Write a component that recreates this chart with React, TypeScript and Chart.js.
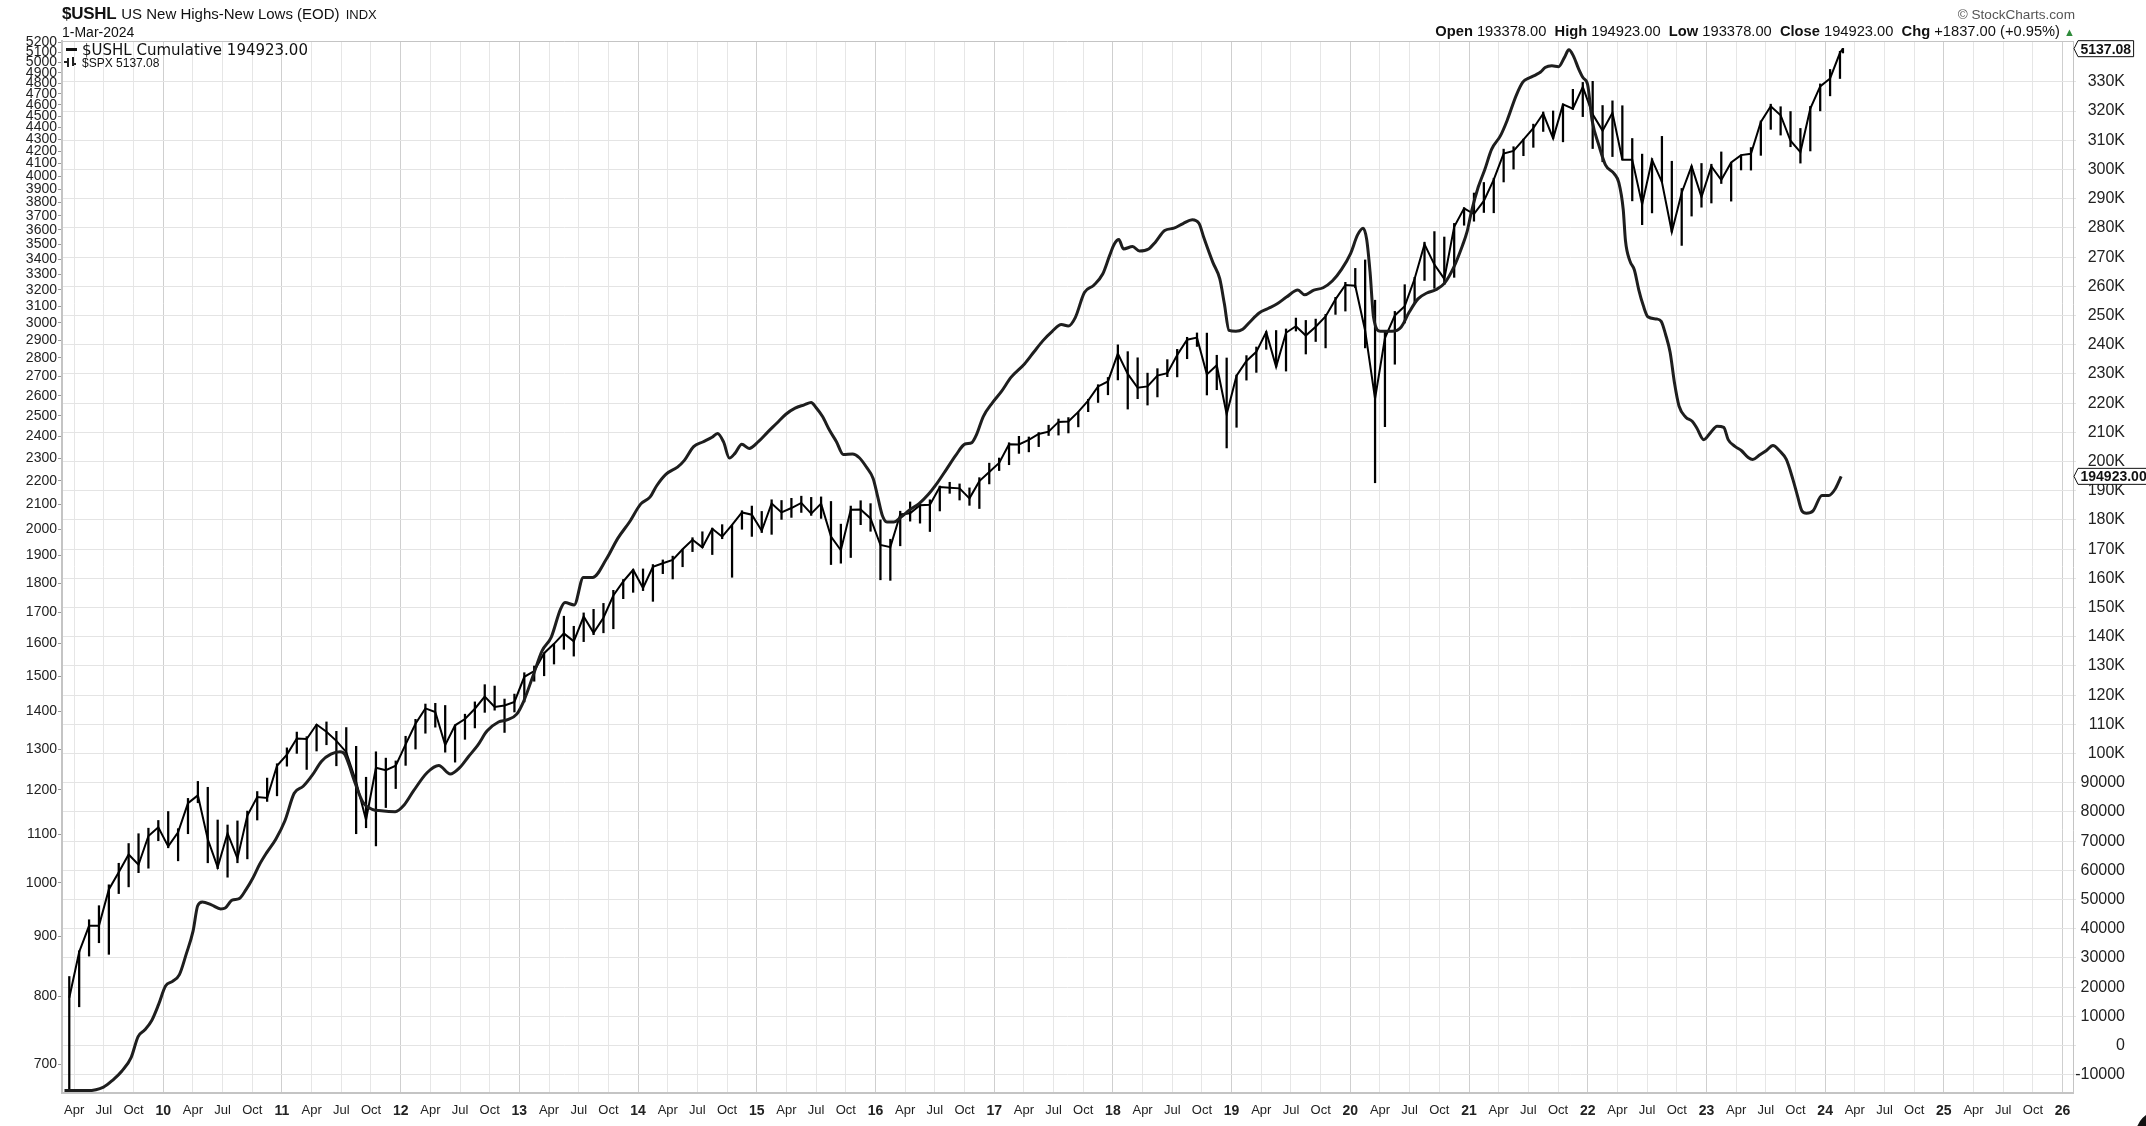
import React, { useEffect, useRef } from 'react';
import { Chart, registerables } from 'chart.js';

Chart.register(...registerables);

const W = 2146;
const H = 1126;
const FONT = '"Liberation Sans", Arial, Helvetica, sans-serif';

// ---------- S&P 500 ($SPX), monthly high / low / close, Mar 2009 .. 1-Mar-2024 ----------
const spxFirstYear = 2009;
const spxFirstMonth = 3; // March
const spxLastTime = 2024.15; // position of the final (1-Mar-2024) bar
const spxHigh = [
  832, 875, 930, 956, 996, 1039, 1080, 1101, 1113, 1130,
  1150, 1112, 1180, 1220, 1206, 1131, 1120, 1129, 1151, 1196, 1228, 1263,
  1303, 1344, 1332, 1364, 1371, 1346, 1356, 1307, 1230, 1293, 1277, 1270,
  1333, 1378, 1420, 1422, 1416, 1363, 1392, 1426, 1475, 1471, 1434, 1448,
  1510, 1530, 1570, 1597, 1687, 1654, 1698, 1710, 1730, 1775, 1813, 1850,
  1851, 1867, 1884, 1898, 1924, 1968, 1991, 2005, 2019, 2018, 2075, 2094,
  2072, 2120, 2117, 2126, 2135, 2130, 2132, 2113, 2021, 2094, 2116, 2104,
  2038, 1962, 2073, 2111, 2103, 2120, 2178, 2194, 2187, 2170, 2214, 2278,
  2301, 2371, 2401, 2398, 2419, 2454, 2484, 2491, 2519, 2582, 2657, 2695,
  2873, 2835, 2801, 2718, 2742, 2791, 2848, 2916, 2941, 2940, 2815, 2800,
  2708, 2813, 2861, 2949, 2955, 2964, 3028, 3014, 3022, 3050, 3154, 3248,
  3338, 3394, 3136, 2955, 3068, 3233, 3280, 3514, 3588, 3550, 3646, 3760,
  3870, 3951, 3984, 4218, 4238, 4302, 4430, 4537, 4546, 4608, 4743, 4808,
  4818, 4595, 4637, 4593, 4307, 4177, 4140, 4325, 4119, 3905, 4080, 4101,
  4095, 4195, 4110, 4170, 4231, 4458, 4607, 4584, 4541, 4393, 4587, 4794,
  4932, 5111, 5140,
];
const spxLow = [
  667, 784, 866, 889, 869, 979, 992, 1020, 1029, 1086,
  1071, 1044, 1101, 1170, 1040, 1028, 1011, 1040, 1048, 1131, 1173, 1186,
  1257, 1289, 1249, 1295, 1311, 1258, 1283, 1101, 1114, 1075, 1159, 1203,
  1259, 1300, 1341, 1357, 1292, 1267, 1325, 1355, 1397, 1403, 1343, 1398,
  1426, 1485, 1501, 1536, 1581, 1560, 1605, 1627, 1633, 1646, 1746, 1768,
  1774, 1737, 1834, 1815, 1859, 1915, 1930, 1904, 1964, 1821, 2001, 1973,
  1988, 1981, 2040, 2048, 2068, 2056, 2044, 1867, 1872, 1893, 2019, 1993,
  1812, 1810, 1937, 2033, 2025, 1992, 2074, 2147, 2119, 2097, 2084, 2187,
  2245, 2271, 2322, 2329, 2353, 2405, 2407, 2417, 2446, 2520, 2566, 2605,
  2682, 2533, 2585, 2553, 2594, 2699, 2698, 2796, 2864, 2604, 2631, 2347,
  2444, 2681, 2722, 2848, 2751, 2729, 2952, 2822, 2892, 2856, 3050, 3070,
  3214, 2856, 2192, 2447, 2766, 2999, 3116, 3260, 3210, 3234, 3280, 3633,
  3662, 3725, 3723, 3955, 4056, 4164, 4233, 4367, 4306, 4279, 4560, 4496,
  4223, 4115, 4157, 4132, 3811, 3637, 3722, 3955, 3585, 3492, 3699, 3764,
  3795, 3943, 3809, 4049, 4048, 4167, 4385, 4336, 4238, 4104, 4203, 4547,
  4683, 4845, 5094,
];
const spxClose = [
  798, 873, 919, 919, 987, 1021, 1057, 1036, 1096, 1115,
  1074, 1104, 1169, 1187, 1089, 1031, 1102, 1049, 1141, 1183, 1181, 1258,
  1286, 1327, 1326, 1364, 1345, 1321, 1292, 1219, 1131, 1253, 1247, 1258,
  1312, 1366, 1408, 1398, 1310, 1362, 1379, 1407, 1441, 1412, 1416, 1426,
  1498, 1515, 1569, 1598, 1631, 1606, 1686, 1633, 1682, 1757, 1806, 1848,
  1783, 1859, 1872, 1884, 1924, 1960, 1931, 2003, 1972, 2018, 2068, 2059,
  1995, 2105, 2068, 2086, 2107, 2063, 2104, 1972, 1920, 2079, 2080, 2044,
  1940, 1932, 2060, 2065, 2097, 2099, 2174, 2171, 2168, 2126, 2199, 2239,
  2279, 2364, 2363, 2384, 2412, 2423, 2470, 2472, 2519, 2575, 2648, 2674,
  2824, 2714, 2641, 2648, 2705, 2718, 2816, 2902, 2914, 2711, 2760, 2507,
  2704, 2784, 2834, 2946, 2752, 2942, 2980, 2926, 2977, 3038, 3141, 3231,
  3226, 2954, 2585, 2912, 3044, 3100, 3271, 3500, 3363, 3270, 3622, 3756,
  3714, 3811, 3973, 4181, 4204, 4298, 4395, 4523, 4308, 4605, 4567, 4766,
  4516, 4374, 4530, 4132, 4132, 3785, 4130, 3955, 3586, 3872, 4080, 3840,
  4077, 3970, 4109, 4169, 4180, 4450, 4589, 4508, 4288, 4194, 4568, 4770,
  4846, 5096, 5137.08,
];

// ---------- $USHL Cumulative (right axis) ----------
const cumTime = [
  2009.168, 2009.361, 2009.497, 2009.575, 2009.652, 2009.730, 2009.788, 2009.845, 2009.903, 2009.961,
  2010.019, 2010.078, 2010.136, 2010.194, 2010.251, 2010.290, 2010.329, 2010.406, 2010.484, 2010.522,
  2010.580, 2010.639, 2010.697, 2010.754, 2010.812, 2010.870, 2010.948, 2011.025, 2011.103, 2011.179,
  2011.257, 2011.334, 2011.412, 2011.489, 2011.528, 2011.567, 2011.605, 2011.682, 2011.760, 2011.837,
  2011.954, 2012.031, 2012.108, 2012.224, 2012.321, 2012.418, 2012.495, 2012.572, 2012.650, 2012.727,
  2012.824, 2012.901, 2012.978, 2013.036, 2013.114, 2013.191, 2013.269, 2013.345, 2013.384, 2013.462,
  2013.539, 2013.617, 2013.733, 2013.829, 2013.926, 2014.023, 2014.100, 2014.158, 2014.236, 2014.332,
  2014.390, 2014.468, 2014.545, 2014.623, 2014.669, 2014.720, 2014.769, 2014.816, 2014.874, 2014.936,
  2015.013, 2015.090, 2015.168, 2015.245, 2015.323, 2015.400, 2015.458, 2015.497, 2015.554, 2015.613,
  2015.671, 2015.729, 2015.806, 2015.864, 2015.922, 2015.980, 2016.019, 2016.057, 2016.096, 2016.154,
  2016.212, 2016.290, 2016.367, 2016.444, 2016.521, 2016.599, 2016.676, 2016.754, 2016.812, 2016.851,
  2016.908, 2016.986, 2017.063, 2017.141, 2017.257, 2017.334, 2017.411, 2017.489, 2017.566, 2017.624,
  2017.683, 2017.760, 2017.837, 2017.914, 2017.972, 2018.011, 2018.050, 2018.089, 2018.166, 2018.223,
  2018.301, 2018.359, 2018.436, 2018.514, 2018.591, 2018.668, 2018.726, 2018.765, 2018.842, 2018.900,
  2018.939, 2018.978, 2019.036, 2019.094, 2019.152, 2019.229, 2019.307, 2019.384, 2019.462, 2019.558,
  2019.616, 2019.693, 2019.771, 2019.848, 2019.926, 2020.003, 2020.061, 2020.108, 2020.138, 2020.166,
  2020.196, 2020.254, 2020.351, 2020.429, 2020.494, 2020.570, 2020.645, 2020.720, 2020.794, 2020.870,
  2020.945, 2020.983, 2021.020, 2021.077, 2021.133, 2021.190, 2021.264, 2021.321, 2021.397, 2021.453,
  2021.510, 2021.566, 2021.603, 2021.641, 2021.698, 2021.754, 2021.803, 2021.841, 2021.878, 2021.924,
  2021.961, 2021.999, 2022.037, 2022.093, 2022.149, 2022.224, 2022.262, 2022.299, 2022.318, 2022.355,
  2022.393, 2022.430, 2022.468, 2022.506, 2022.581, 2022.619, 2022.656, 2022.694, 2022.732, 2022.769,
  2022.826, 2022.882, 2022.920, 2022.977, 2023.033, 2023.090, 2023.146, 2023.183, 2023.240, 2023.296,
  2023.352, 2023.390, 2023.447, 2023.503, 2023.560, 2023.616, 2023.673, 2023.729, 2023.766, 2023.804,
  2023.842, 2023.898, 2023.973, 2024.030, 2024.086, 2024.135,
];
const cumValue = [
  -15400, -15400, -14200, -11800, -8700, -4000, 3100, 5400, 8600, 14100,
  20400, 22000, 24300, 31400, 39200, 47900, 49200, 48200, 46800, 47100,
  49800, 50300, 53400, 57300, 62100, 66000, 70700, 77000, 86400, 88800,
  92700, 97400, 99800, 100600, 99800, 95900, 91200, 83300, 80900, 80400,
  80100, 82500, 87200, 93500, 95900, 93000, 95100, 99000, 102900, 107700,
  110800, 111600, 113500, 117900, 126500, 135200, 139900, 149300, 151700, 150900,
  160300, 160300, 166600, 173700, 179200, 185500, 187800, 191800, 195700, 198100,
  200400, 205100, 206700, 208300, 209600, 206700, 201200, 202800, 205900, 204500,
  206800, 210000, 213100, 216200, 218300, 219400, 220200, 218600, 215400, 210700,
  206800, 202400, 202600, 201300, 198200, 194200, 187900, 181600, 179300, 179300,
  180900, 183500, 185600, 188700, 192700, 197400, 202100, 206000, 206500, 209200,
  215400, 220200, 224100, 228800, 233500, 237500, 241400, 244600, 246900, 246400,
  249300, 257900, 260300, 264200, 270500, 274400, 276000, 272800, 273600, 272100,
  272800, 275200, 279100, 279900, 281500, 282800, 281500, 276800, 268200, 262600,
  254000, 244900, 244600, 245300, 247700, 250800, 252400, 254000, 256300, 258700,
  257100, 258700, 259500, 261800, 265800, 271300, 277600, 279900, 276000, 265000,
  249300, 244600, 244600, 246100, 251000, 255700, 257700, 258800, 261100, 266400,
  274000, 278600, 285500, 293900, 300000, 306900, 311500, 316800, 325300, 329900,
  331400, 332500, 333400, 334900, 335500, 335200, 338300, 341000, 339000, 334400,
  331400, 329100, 316800, 308400, 301600, 298500, 295500, 286300, 275600, 268700,
  265600, 258800, 253400, 249600, 248800, 248000, 243500, 237400, 226600, 219000,
  215200, 213700, 211400, 207500, 209800, 212100, 211700, 207500, 205200, 203700,
  201400, 200700, 202200, 203700, 205500, 203700, 200700, 193800, 188400, 183100,
  182300, 183100, 188400, 188400, 190700, 194923,
];

// ---------- axes ----------
const leftTicks = [
  700, 800, 900, 1000, 1100, 1200, 1300, 1400, 1500, 1600, 1700, 1800, 1900, 2000,
  2100, 2200, 2300, 2400, 2500, 2600, 2700, 2800, 2900, 3000, 3100, 3200, 3300, 3400,
  3500, 3600, 3700, 3800, 3900, 4000, 4100, 4200, 4300, 4400, 4500, 4600, 4700, 4800,
  4900, 5000, 5100, 5200,
];
const rightTicks = [
  -10000, 0, 10000, 20000, 30000, 40000, 50000, 60000, 70000, 80000, 90000,
  100000, 110000, 120000, 130000, 140000, 150000, 160000, 170000, 180000, 190000,
  200000, 210000, 220000, 230000, 240000, 250000, 260000, 270000, 280000, 290000,
  300000, 310000, 320000, 330000,
];
const xYears = [2009, 2010, 2011, 2012, 2013, 2014, 2015, 2016, 2017, 2018, 2019, 2020, 2021, 2022, 2023, 2024, 2025, 2026];
const quarterLabels = ['Apr', 'Jul', 'Oct'];
const xMin = 2009.147;
const xMax = 2026.088;
const leftMin = 662;
const leftMax = 5215;
const rightMin = -16230;
const rightMax = 344000;

const isYearTick = (v: number) => Math.abs(v - Math.round(v)) < 1e-6;

function buildXTicks() {
  const out: { value: number }[] = [];
  xYears.forEach((y) => {
    [0, 0.25, 0.5, 0.75].forEach((q) => {
      const v = y + q;
      if (v >= xMin && v <= xMax) out.push({ value: v });
    });
  });
  return out;
}

function drawTag(ctx: CanvasRenderingContext2D, x: number, y: number, text: string) {
  ctx.save();
  ctx.font = `bold 14px ${FONT}`;
  const tw = ctx.measureText(text).width;
  const h = 16;
  const left = x + 4;
  const right = left + tw + 5;
  ctx.beginPath();
  ctx.moveTo(x, y);
  ctx.lineTo(left, y - h / 2);
  ctx.lineTo(right, y - h / 2);
  ctx.lineTo(right, y + h / 2);
  ctx.lineTo(left, y + h / 2);
  ctx.closePath();
  ctx.fillStyle = '#fff';
  ctx.fill();
  ctx.lineWidth = 1;
  ctx.strokeStyle = '#111';
  ctx.stroke();
  ctx.fillStyle = '#111';
  ctx.textBaseline = 'middle';
  ctx.textAlign = 'left';
  ctx.fillText(text, left + 2.5, y + 1);
  ctx.restore();
}

const framePlugin = {
  id: 'frameAndTags',
  afterDraw(chart: any) {
    const { ctx, chartArea: a } = chart;
    ctx.save();
    ctx.strokeStyle = '#c4c4c4';
    ctx.lineWidth = 1;
    ctx.beginPath();
    ctx.moveTo(a.left, a.top + 0.5);
    ctx.lineTo(a.right, a.top + 0.5);
    ctx.stroke();
    ctx.restore();
    const yL = chart.scales.y;
    const yR = chart.scales.y1;
    const lastSpx = spxClose[spxClose.length - 1];
    const lastCum = cumValue[cumValue.length - 1];
    drawTag(ctx, a.right + 1, yL.getPixelForValue(lastSpx), lastSpx.toFixed(2));
    drawTag(ctx, a.right + 1, yR.getPixelForValue(lastCum), lastCum.toFixed(2));
  },
};

export default function App() {
  const ref = useRef<HTMLCanvasElement | null>(null);

  useEffect(() => {
    if (!ref.current) return;
    const n = Math.min(spxHigh.length, spxLow.length, spxClose.length);
    const spxX = (i: number) =>
      i === n - 1 ? spxLastTime : spxFirstYear + (spxFirstMonth - 1 + i + 0.5) / 12;
    const rangeData = [];
    const closeData = [];
    for (let i = 0; i < n; i++) {
      rangeData.push({ x: spxX(i), y: [spxLow[i], spxHigh[i]] });
      closeData.push({ x: spxX(i), y: spxClose[i] });
    }
    const m = Math.min(cumTime.length, cumValue.length);
    const cumData = [];
    for (let i = 0; i < m; i++) cumData.push({ x: cumTime[i], y: cumValue[i] });

    const chart = new Chart(ref.current, {
      type: 'line',
      data: {
        datasets: [
          {
            type: 'bar',
            label: '$SPX range',
            data: rangeData as any,
            xAxisID: 'x',
            yAxisID: 'y',
            backgroundColor: '#000',
            borderWidth: 0,
            barThickness: 1.6,
            order: 3,
          } as any,
          {
            type: 'line',
            label: '$SPX',
            data: closeData as any,
            xAxisID: 'x',
            yAxisID: 'y',
            borderColor: '#000',
            borderWidth: 2,
            pointRadius: 0,
            tension: 0,
            order: 2,
          },
          {
            type: 'line',
            label: '$USHL Cumulative',
            data: cumData as any,
            xAxisID: 'x',
            yAxisID: 'y1',
            borderColor: '#1e1e1e',
            borderWidth: 3,
            pointRadius: 0,
            cubicInterpolationMode: 'monotone',
            order: 1,
          },
        ],
      },
      options: {
        animation: false,
        responsive: false,
        maintainAspectRatio: false,
        events: [],
        layout: { padding: { top: 41, left: 0, right: 21, bottom: 0 } },
        plugins: { legend: { display: false }, tooltip: { enabled: false } },
        scales: {
          x: {
            type: 'linear',
            min: xMin,
            max: xMax,
            offset: false,
            grid: {
              offset: false,
              drawTicks: false,
              color: (c: any) => (c.tick && isYearTick(c.tick.value) ? '#cfcfcf' : '#e6e6e6'),
              lineWidth: 1,
            },
            border: { display: true, color: '#c4c4c4', width: 2 },
            ticks: {
              autoSkip: false,
              maxRotation: 0,
              minRotation: 0,
              padding: 10,
              color: '#222',
              font: (c: any) =>
                c.tick && isYearTick(c.tick.value)
                  ? { family: FONT, size: 14, weight: 'bold' }
                  : { family: FONT, size: 13 },
              callback: (v: any) => {
                const val = Number(v);
                const q = Math.round((val - Math.floor(val + 1e-6)) * 4);
                if (q === 0) return String(Math.round(val) % 100).padStart(2, '0');
                return quarterLabels[q - 1];
              },
            },
            afterBuildTicks: (s: any) => {
              s.ticks = buildXTicks();
            },
            afterFit: (s: any) => {
              s.height = 33;
            },
          },
          y: {
            type: 'logarithmic',
            position: 'left',
            min: leftMin,
            max: leftMax,
            grid: { drawOnChartArea: false, drawTicks: true, tickLength: 4, color: '#999' },
            border: { display: true, color: '#c4c4c4', width: 2 },
            ticks: {
              autoSkip: false,
              padding: 1,
              color: '#222',
              font: { family: FONT, size: 14 },
              callback: (v: any) => String(v),
            },
            afterBuildTicks: (s: any) => {
              s.ticks = leftTicks.map((v) => ({ value: v }));
            },
            afterFit: (s: any) => {
              s.width = 62;
            },
          },
          y1: {
            type: 'linear',
            position: 'right',
            min: rightMin,
            max: rightMax,
            grid: { drawOnChartArea: true, drawTicks: true, tickLength: 3, color: '#e4e4e4' },
            border: { display: true, color: '#c4c4c4', width: 1 },
            ticks: {
              autoSkip: false,
              crossAlign: 'far',
              padding: 2,
              color: '#222',
              font: { family: FONT, size: 16 },
              callback: (v: any) => {
                const val = Number(v);
                return val >= 100000 ? `${Math.round(val / 1000)}K` : String(val);
              },
            },
            afterBuildTicks: (s: any) => {
              s.ticks = rightTicks.map((v) => ({ value: v }));
            },
            afterFit: (s: any) => {
              s.width = 52;
            },
          },
        },
      } as any,
      plugins: [framePlugin],
    });
    return () => chart.destroy();
  }, []);

  const lastSpx = spxClose[spxClose.length - 1];
  const lastCum = cumValue[cumValue.length - 1];

  return (
    <div
      style={{
        position: 'absolute',
        left: 0,
        top: 0,
        width: W,
        height: H,
        overflow: 'hidden',
        background: '#fff',
        fontFamily: FONT,
        color: '#111',
      }}
    >
      <canvas ref={ref} width={W} height={H} style={{ position: 'absolute', left: 0, top: 0 }} />

      {/* title */}
      <div style={{ position: 'absolute', left: 62, top: 4, whiteSpace: 'nowrap', display: 'flex', alignItems: 'baseline', lineHeight: '20px' }}>
        <span style={{ fontWeight: 'bold', fontSize: 17, letterSpacing: -0.3 }}>$USHL</span>
        <span style={{ fontSize: 15, marginLeft: 5 }}>US New Highs-New Lows (EOD)</span>
        <span style={{ fontSize: 13, marginLeft: 6 }}>INDX</span>
      </div>
      <div style={{ position: 'absolute', left: 62, top: 24, fontSize: 14, lineHeight: '16px', whiteSpace: 'nowrap' }}>1-Mar-2024</div>

      <div style={{ position: 'absolute', right: 71, top: 7, fontSize: 13.6, lineHeight: '16px', color: '#555', whiteSpace: 'nowrap' }}>
        © StockCharts.com
      </div>
      <div style={{ position: 'absolute', right: 71, top: 23, fontSize: 14.7, lineHeight: '17px', whiteSpace: 'nowrap' }}>
        <b>Open</b> 193378.00&nbsp; <b>High</b> 194923.00&nbsp; <b>Low</b> 193378.00&nbsp; <b>Close</b> {lastCum.toFixed(2)}&nbsp; <b>Chg</b> +1837.00 (+0.95%){' '}
        <span style={{ color: '#2e8b3a', fontSize: 11 }}>▲</span>
      </div>

      {/* legend */}
      <div style={{ position: 'absolute', left: 66, top: 48, width: 11, height: 3, background: '#111' }} />
      <div style={{ position: 'absolute', left: 82, top: 42, fontSize: 15, lineHeight: '16px', fontFamily: '"DejaVu Sans", Verdana, sans-serif', whiteSpace: 'nowrap' }}>
        $USHL Cumulative {lastCum.toFixed(2)}
      </div>
      <div style={{ position: 'absolute', left: 67, top: 58, width: 1.5, height: 9, background: '#222' }} />
      <div style={{ position: 'absolute', left: 64, top: 61, width: 3, height: 1.5, background: '#222' }} />
      <div style={{ position: 'absolute', left: 72, top: 57, width: 1.5, height: 9, background: '#222' }} />
      <div style={{ position: 'absolute', left: 73, top: 63, width: 3, height: 1.5, background: '#222' }} />
      <div style={{ position: 'absolute', left: 82, top: 57, fontSize: 12, lineHeight: '13px', whiteSpace: 'nowrap' }}>
        $SPX {lastSpx.toFixed(2)}
      </div>

      {/* corner badge */}
      <div style={{ position: 'absolute', left: 2136, top: 1111, width: 46, height: 46, borderRadius: '50%', background: '#111' }} />
    </div>
  );
}
